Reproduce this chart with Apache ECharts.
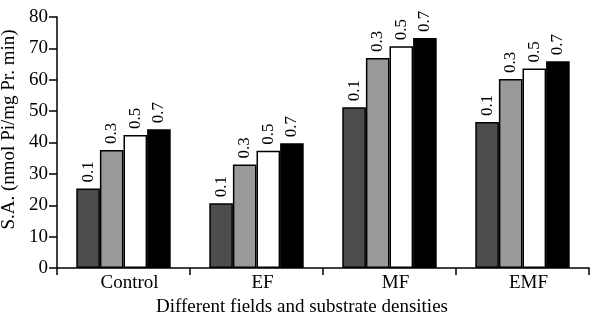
<!DOCTYPE html>
<html>
<head>
<meta charset="utf-8">
<script src="https://cdn.jsdelivr.net/npm/echarts@6/dist/echarts.min.js"></script>
<style>html,body{margin:0;padding:0;background:#fff}#c{width:590px;height:320px}</style>
</head>
<body>
<div id="c"></div>
<script>
const categories = ['Control', 'EF', 'MF', 'EMF'];
const seriesNames = ['0.1', '0.3', '0.5', '0.7'];
const s01 = [25.3, 20.6, 51.2, 46.5];
const s03 = [37.6, 33.0, 66.9, 60.2];
const s05 = [42.4, 37.4, 70.7, 63.6];
const s07 = [44.2, 39.8, 73.3, 65.9];
const yTicks = [0, 10, 20, 30, 40, 50, 60, 70, 80];
const colors = ['#4d4d4d', '#999999', '#ffffff', '#000000'];

const font = '"Liberation Serif", "Times New Roman", serif';
const allData = [s01, s03, s05, s07];
const chart = echarts.init(document.getElementById('c'));
chart.setOption({
  animation: false,
  grid: { left: 57, right: 1, top: 17, bottom: 52, containLabel: false, outerBoundsMode: 'none' },
  xAxis: {
    type: 'category',
    data: categories,
    name: 'Different fields and substrate densities',
    nameLocation: 'middle',
    nameGap: 29,
    nameTextStyle: { fontFamily: font, fontSize: 19, color: '#000', padding: [0, 42, 0, 0] },
    axisLine: { lineStyle: { color: '#000', width: 1.5 } },
    axisTick: { show: true, alignWithLabel: false, length: 7, lineStyle: { color: '#000', width: 1.5 } },
    axisLabel: { fontFamily: font, fontSize: 19, color: '#000', margin: 6, padding: [0, 0, 0, 12] }
  },
  yAxis: {
    type: 'value',
    min: yTicks[0],
    max: yTicks[yTicks.length - 1],
    interval: 10,
    name: 'S.A. (nmol Pi/mg Pr. min)',
    nameLocation: 'middle',
    nameGap: 30,
    nameTextStyle: { fontFamily: font, fontSize: 19, color: '#000', padding: [0, 0, 0, 26] },
    axisLine: { show: true, lineStyle: { color: '#000', width: 1.5 } },
    axisTick: { show: true, length: 8, lineStyle: { color: '#000', width: 1.5 } },
    axisLabel: { fontFamily: font, fontSize: 19, color: '#000', margin: 9 },
    splitLine: { show: false }
  },
  series: seriesNames.map((n, i) => ({
    name: n,
    type: 'bar',
    data: allData[i],
    barGap: '0%',
    barCategoryGap: '29%',
    itemStyle: { color: colors[i], borderColor: '#000', borderWidth: 1.5 },
    label: {
      show: true,
      position: 'top',
      rotate: 90,
      align: 'left',
      verticalAlign: 'middle',
      distance: 6,
      formatter: () => n,
      fontFamily: font,
      fontSize: 17,
      color: '#000'
    }
  }))
});
</script>
</body>
</html>
